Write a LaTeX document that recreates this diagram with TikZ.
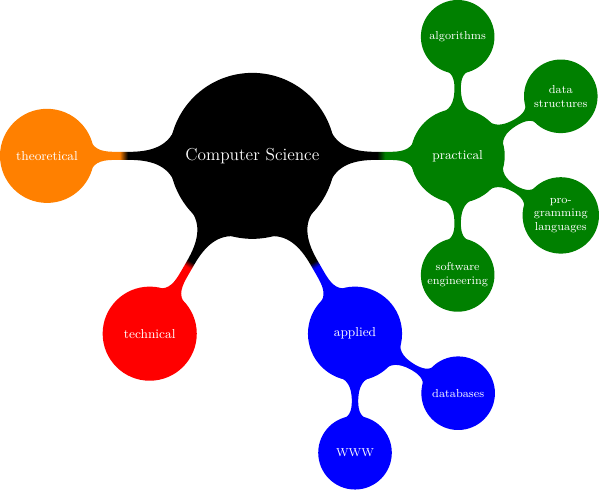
\documentclass[tikz,border=0pt]{standalone}
\usepackage{amsmath}
\usepackage{tikz}
\usetikzlibrary{mindmap,backgrounds}

\pgfdeclarehorizontalshading[barfrom,barto]{barswitch}{100bp}{
  color(0bp)=(barfrom); color(63.5bp)=(barfrom); color(66bp)=(barto); color(100bp)=(barto)}
\tikzset{
  nobar/.style={edge from parent path={}},
  link/.style n args={3}{circle connection bar,
    /utils/exec={\colorlet{barfrom}{#1}\colorlet{barto}{#2}},
    shade,shading=barswitch,shading angle=#3}
}

\begin{document}
\begin{tikzpicture}
    \path[mindmap,concept color=black,text=white]
    node[concept] (cs) {Computer Science}
    [clockwise from=0]
    child[concept color=green!50!black,nobar] {
      node[concept] (practical) {practical}
      [clockwise from=90]
      child[nobar] { node[concept] (algo) {algorithms} }
      child[nobar] { node[concept] (data) {data structures} }
      child[nobar] { node[concept] (prog) {pro\-gramming languages} }
      child[nobar] { node[concept] (soft) {software engineer\-ing} }
    }
    child[concept color=blue,nobar] {
      node[concept] (applied) {applied}
      [clockwise from=-30]
      child[nobar] { node[concept] (db) {databases} }
      child[nobar] { node[concept] (www) {WWW} }
    }
    child[concept color=red,nobar] { node[concept] (technical) {technical} }
    child[concept color=orange,nobar] { node[concept] (theo) {theoretical} };

    % connection bars
    \begin{scope}[on background layer]
    \path[link={black}{green!50!black}{0}] (cs) to (practical);
    \path[link={black}{blue}{-60}] (cs) to (applied);
    \path[link={black}{red}{-120}] (cs) to (technical);
    \path[link={black}{orange}{180}] (cs) to (theo);
    \path[link={green!50!black}{green!50!black}{90}] (practical) to (algo);
    \path[link={green!50!black}{green!50!black}{30}] (practical) to (data);
    \path[link={green!50!black}{green!50!black}{-30}] (practical) to (prog);
    \path[link={green!50!black}{green!50!black}{-90}] (practical) to (soft);
    \path[link={blue}{blue}{-30}] (applied) to (db);
    \path[link={blue}{blue}{-90}] (applied) to (www);
    \end{scope}
\end{tikzpicture}
\end{document}
